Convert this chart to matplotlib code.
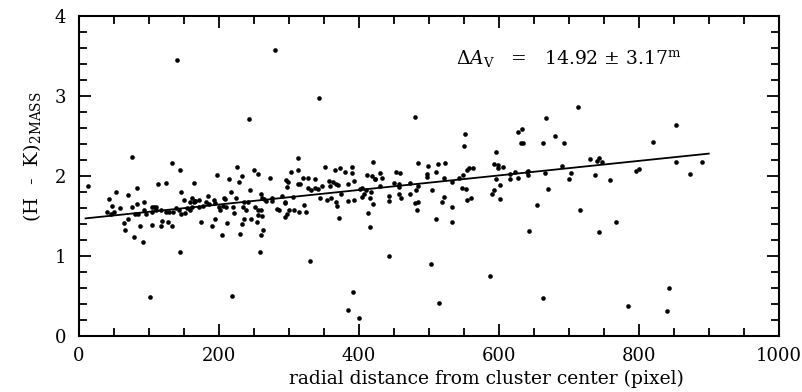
import matplotlib
matplotlib.use("Agg")
from matplotlib import pyplot as plt
from matplotlib.ticker import MultipleLocator

# radial distance (pixel) and (H-K) colour of the stars
dist = [
    # outliers high / low
    140, 281, 244, 343, 480,
    102, 219, 331, 392, 385, 400, 504, 515, 587, 663, 785, 843, 841,
    # outer part
    713, 667, 681, 663, 693, 853, 820, 690, 730, 740, 743, 748, 853, 891,
    642, 642, 666, 704, 701, 738, 759, 796, 800, 873, 671, 655, 716, 644,
    743, 768,
    # 420 - 640
    552, 551, 627, 634, 632, 635, 596, 485, 499, 513, 523, 510, 498, 498,
    522, 430, 434, 424, 454, 459, 431, 450, 458, 458, 473, 485, 482, 505,
    533, 543, 549, 555, 558, 563, 593, 599, 599, 606, 596, 616, 616, 623,
    627, 640, 548, 553, 602, 594, 590, 444, 443, 457, 460, 474, 480, 485,
    483, 522, 519, 534, 555, 561, 602, 511, 534, 443,
    # 200 - 420
    313, 420, 226, 251, 256, 215, 233, 229, 274, 304, 313, 296, 299, 313,
    316, 321, 327, 337, 352, 366, 373, 380, 390, 390, 412, 419, 423, 298,
    328, 332, 338, 342, 347, 357, 359, 364, 368, 371, 385, 393, 402, 405,
    410, 408, 417, 245, 218, 225, 209, 261, 262, 265, 268, 276, 277, 290,
    295, 307, 345, 355, 360, 375, 368, 369, 385, 393, 405, 416, 420, 237,
    242, 235, 239, 221, 222, 252, 257, 260, 257, 262, 284, 286, 295, 301,
    308, 315, 322, 325, 295, 298, 372, 413, 416, 212, 231, 234, 236, 246,
    255, 260, 263, 259,
    # 0 - 200
    13, 76, 133, 145, 113, 125, 165, 198, 53, 44, 71, 83, 147, 150,
    162, 159, 166, 172, 185, 194, 208, 84, 93, 48, 59, 40, 46, 51,
    77, 81, 85, 93, 97, 105, 108, 111, 105, 111, 118, 125, 129, 135,
    139, 143, 146, 152, 155, 159, 162, 165, 167, 172, 178, 182, 186, 195,
    200, 202, 207, 210, 65, 67, 71, 88, 105, 118, 119, 128, 133, 79,
    92, 145, 175, 190, 195, 205,
]
hk = [
    3.45, 3.57, 2.71, 2.98, 2.74,
    0.49, 0.50, 0.94, 0.55, 0.32, 0.22, 0.90, 0.41, 0.75, 0.48, 0.37, 0.60, 0.31,
    2.86, 2.73, 2.50, 2.41, 2.41, 2.64, 2.43, 2.13, 2.21, 2.19, 2.22, 2.18, 2.18, 2.18,
    2.06, 2.01, 2.04, 2.04, 1.96, 2.01, 1.95, 2.06, 2.09, 2.02, 1.84, 1.64, 1.58, 1.31,
    1.30, 1.42,
    2.52, 2.38, 2.55, 2.59, 2.41, 2.41, 2.30, 2.16, 2.12, 2.15, 2.16, 2.05, 2.03, 1.99,
    1.98, 2.04, 1.97, 1.96, 2.05, 2.04, 1.88, 1.91, 1.90, 1.86, 1.91, 1.88, 1.83, 1.83,
    1.92, 1.98, 2.01, 2.08, 2.10, 2.10, 2.15, 2.14, 2.10, 2.11, 1.96, 2.02, 1.96, 2.05,
    1.97, 2.05, 1.85, 1.84, 1.89, 1.82, 1.78, 1.75, 1.69, 1.78, 1.72, 1.77, 1.66, 1.68,
    1.57, 1.74, 1.68, 1.61, 1.70, 1.72, 1.71, 1.46, 1.43, 1.00,
    2.23, 2.18, 2.11, 2.08, 2.03, 1.96, 2.00, 1.92, 1.98, 2.05, 2.08, 1.95, 1.93, 1.90,
    1.90, 1.98, 1.98, 1.96, 2.11, 2.08, 2.10, 2.05, 2.11, 2.04, 2.01, 2.00, 1.96, 1.86,
    1.85, 1.82, 1.85, 1.84, 1.87, 1.94, 1.88, 1.93, 1.90, 1.89, 1.90, 1.94, 1.84, 1.85,
    1.83, 1.77, 1.80, 1.82, 1.80, 1.72, 1.71, 1.78, 1.73, 1.71, 1.69, 1.72, 1.69, 1.75,
    1.67, 1.74, 1.73, 1.70, 1.73, 1.78, 1.68, 1.62, 1.69, 1.70, 1.74, 1.73, 1.65, 1.67,
    1.68, 1.61, 1.58, 1.61, 1.54, 1.61, 1.57, 1.58, 1.51, 1.50, 1.59, 1.57, 1.66, 1.57,
    1.58, 1.55, 1.64, 1.55, 1.49, 1.52, 1.48, 1.54, 1.36, 1.41, 1.27, 1.40, 1.46, 1.46,
    1.43, 1.26, 1.33, 1.05,
    1.87, 2.24, 2.16, 2.07, 1.90, 1.91, 1.91, 2.01, 1.80, 1.71, 1.76, 1.85, 1.80, 1.70,
    1.73, 1.67, 1.69, 1.70, 1.75, 1.70, 1.72, 1.65, 1.67, 1.62, 1.60, 1.55, 1.53, 1.55,
    1.61, 1.53, 1.53, 1.58, 1.53, 1.61, 1.61, 1.61, 1.55, 1.57, 1.57, 1.55, 1.55, 1.55,
    1.60, 1.58, 1.53, 1.54, 1.60, 1.57, 1.61, 1.68, 1.69, 1.61, 1.63, 1.67, 1.65, 1.66,
    1.61, 1.58, 1.63, 1.61, 1.41, 1.33, 1.46, 1.37, 1.39, 1.38, 1.44, 1.43, 1.37, 1.24,
    1.18, 1.05, 1.42, 1.38, 1.46, 1.26,
]

# linear fit drawn over the points
fit_x = [10, 900]
fit_y = [1.47, 2.28]

plt.rcParams['font.family'] = ['DejaVu Serif']
plt.rcParams['mathtext.fontset'] = 'dejavuserif'

fig = plt.figure(figsize=(8.03, 3.92), dpi=100)
ax = fig.add_axes([0.0978, 0.143, 0.872, 0.816])

ax.scatter(dist, hk, s=11, color='black', linewidths=0)
ax.plot(fit_x, fit_y, color='black', lw=1.3)

ax.set_xlim(0, 1000)
ax.set_ylim(0, 4)
ax.xaxis.set_major_locator(MultipleLocator(200))
ax.xaxis.set_minor_locator(MultipleLocator(50))
ax.yaxis.set_major_locator(MultipleLocator(1))
ax.yaxis.set_minor_locator(MultipleLocator(0.2))
ax.tick_params(which='both', direction='in', top=True, right=True, labelsize=13, width=1.3)
ax.tick_params(which='major', length=8.5)
ax.tick_params(which='minor', length=5.5)
ax.tick_params(axis='x', which='major', pad=8)
ax.tick_params(axis='y', which='major', pad=9)
for sp in ax.spines.values():
    sp.set_linewidth(1.5)

ax.set_xlabel("radial distance from cluster center (pixel)", fontsize=13.5, va='center')
ax.xaxis.set_label_coords(0.582, -0.135)
ax.set_ylabel(r"(H  -  K)$_{\rm 2MASS}$", fontsize=14, va='center')
ax.yaxis.set_label_coords(-0.066, 0.56)

ax.text(539, 3.47, r"$\Delta A_{\rm V}$   =   14.92 $\pm$ 3.17$^{\rm m}$", fontsize=13.5,
        va='center')

fig.savefig("out.png", dpi=100)
